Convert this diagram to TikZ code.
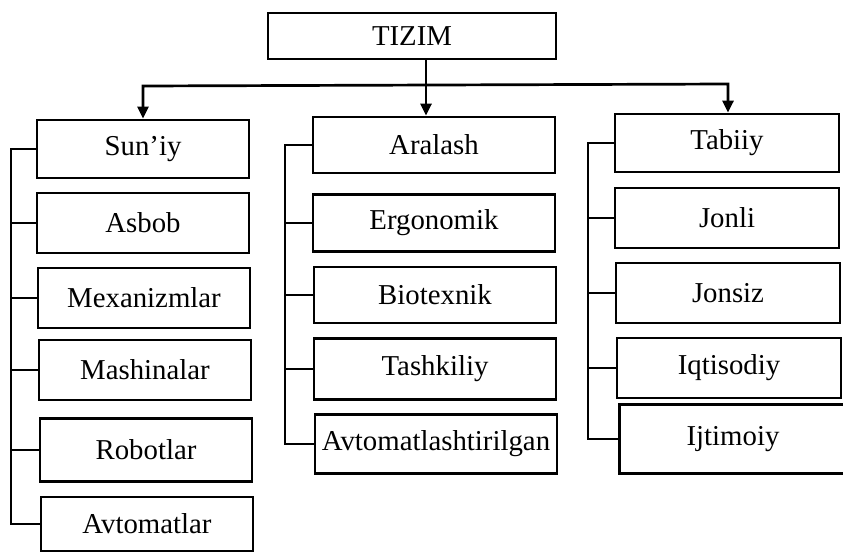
\documentclass[tikz,border=0pt]{standalone}
\usepackage{fontspec}
\setmainfont{Liberation Serif}
\usetikzlibrary{arrows.meta}
\begin{document}
\begin{tikzpicture}[x=1pt,y=-1pt,
  line width=2.7pt,
  boxnode/.style={draw, line width=2.7pt, inner sep=0pt, align=center,
    font=\fontsize{28.8}{31}\selectfont},
  c1/.style={boxnode, minimum width=212pt},
  c2/.style={boxnode, minimum width=242pt},
  c3/.style={boxnode, minimum width=224pt},
  link/.style={line width=2.7pt, line join=miter},
  arr/.style={link, -{Triangle[length=12pt,width=11pt]}},
  arrboth/.style={link, {Triangle[length=12pt,width=11pt]}-{Triangle[length=12pt,width=11pt]}}]
\useasboundingbox (0,0) rectangle (843,555);
\fill[white] (0,0) rectangle (843,555);

% top
\node[boxnode, minimum width=288pt, minimum height=46pt] (tizim) at (412,36) {TIZIM};

% column 1
\node[c1, minimum height=58pt] (sun) at (143,149) {Sun’iy};
\node[c1, minimum height=60pt] (asb) at (143,223) {Asbob};
\node[c1, minimum height=60pt] (mex) at (144,298) {Mexanizmlar};
\node[c1, minimum height=60pt] (mas) at (145,370) {Mashinalar};
\node[c1, minimum height=63pt] (rob) at (146,450) {Robotlar};
\node[c1, minimum height=54pt] (avt) at (147,524) {Avtomatlar};

% column 2
\node[c2, minimum height=56pt] (ara) at (434,145) {Aralash};
\node[c2, minimum height=57pt] (erg) at (434,223) {Ergonomik};
\node[c2, minimum height=56pt] (bio) at (435,295) {Biotexnik};
\node[c2, minimum height=61pt] (tas) at (435,369) {Tashkiliy};
\node[c2, minimum height=59pt] (avl) at (436,444) {Avtomatlashtirilgan};

% column 3
\node[c3, minimum height=58pt] (tab) at (727,143) {Tabiiy};
\node[c3, minimum height=60pt] (jon) at (727,218) {Jonli};
\node[c3, minimum height=60pt] (jsz) at (728,293) {Jonsiz};
\node[c3, minimum height=60pt] (iqt) at (729,368) {Iqtisodiy};
\node[c3, draw=none, minimum height=66pt] (ijt) at (733,439) {Ijtimoiy};
\draw[link] ([xshift=40pt]ijt.north east) -- (ijt.north west) -- (ijt.south west) -- ([xshift=40pt]ijt.south east);

% junction coordinates
\coordinate (jm) at (426,85);
\coordinate (jl) at (143,86);
\coordinate (jr) at (728,84);
\coordinate (sp1) at (11,0);
\coordinate (sp2) at (285,0);
\coordinate (sp3) at (588,0);

% top connectors
\draw[arr] (tizim.south -| jm) -- (ara.north -| jm);
\draw[arrboth] (sun.north -| jl) -- (jl) -- (jr) -- (tab.north -| jr);

% column 1 spine
\draw[link] (sun.west) -- (sun.west -| sp1) -- (avt.west -| sp1) -- (avt.west);
\foreach \n in {asb,mex,mas,rob} \draw[link] (\n.west) -- (\n.west -| sp1);

% column 2 spine
\draw[link] (ara.west) -- (ara.west -| sp2) -- (avl.west -| sp2) -- (avl.west);
\foreach \n in {erg,bio,tas} \draw[link] (\n.west) -- (\n.west -| sp2);

% column 3 spine
\draw[link] (tab.west) -- (tab.west -| sp3) -- (ijt.west -| sp3) -- (ijt.west);
\foreach \n in {jon,jsz,iqt} \draw[link] (\n.west) -- (\n.west -| sp3);
\end{tikzpicture}
\end{document}
